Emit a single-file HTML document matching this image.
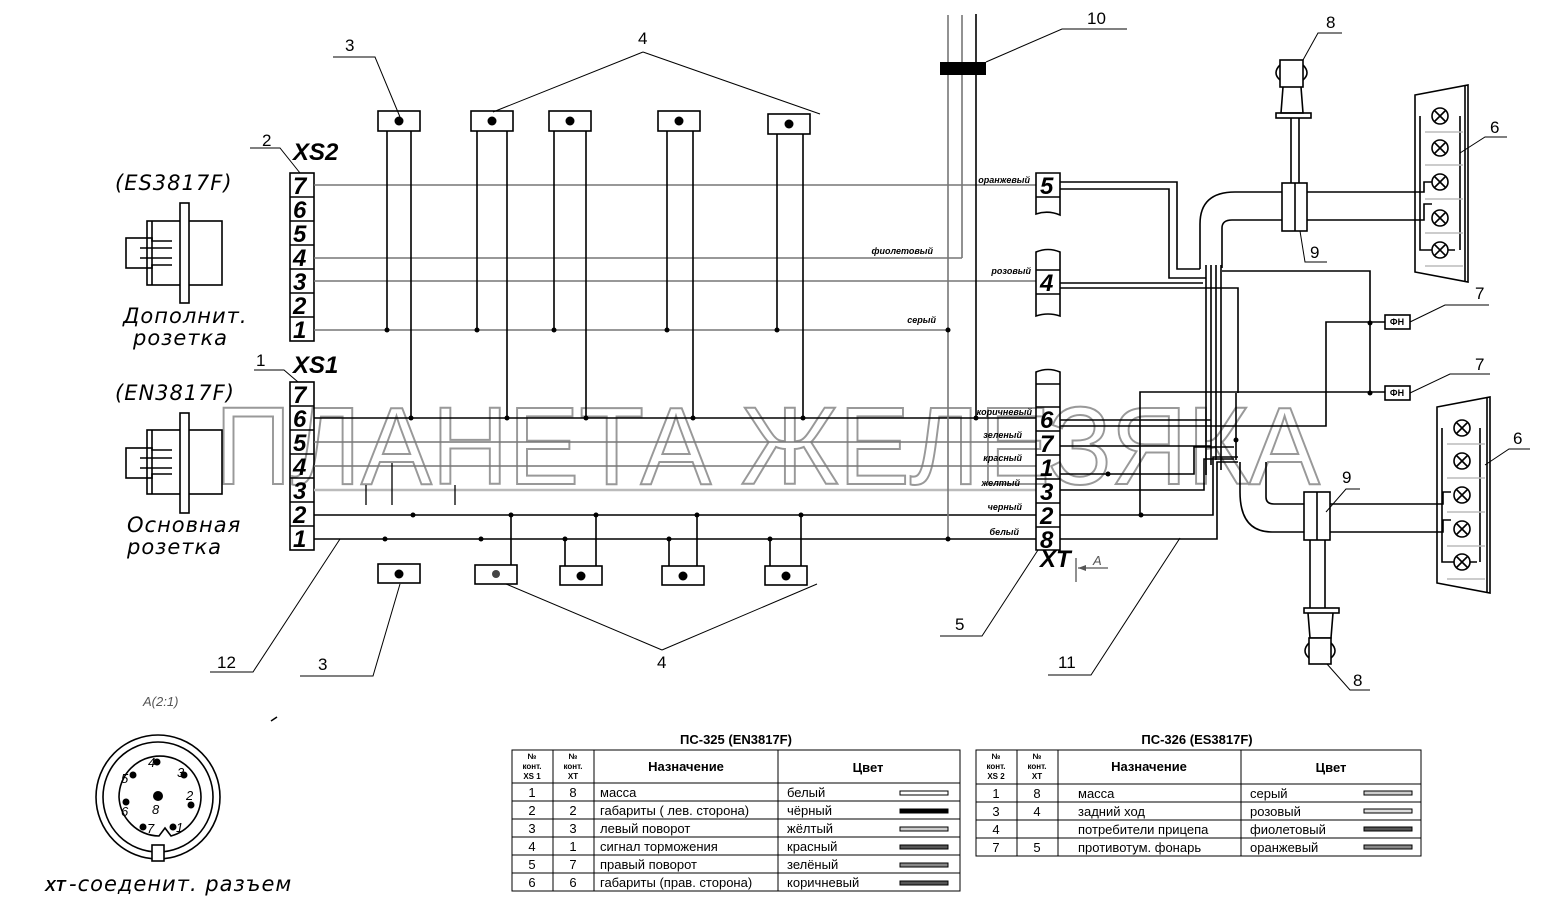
<!DOCTYPE html>
<html><head><meta charset="utf-8"><style>
html,body{margin:0;padding:0;background:#fff;}
svg{display:block;font-family:"Liberation Sans",sans-serif;}
.k{stroke:#000;fill:none;stroke-width:1.6}
.g{stroke:#777;fill:none;stroke-width:1.6}
.t{stroke:#000;fill:none;stroke-width:1}
.n{font-family:"Liberation Sans",sans-serif;font-weight:bold;font-style:italic;font-size:24px}
.lab{font-size:17px}
.cl{font-size:9px;font-weight:bold;font-style:italic;text-anchor:end}
.it{font-family:"DejaVu Sans",sans-serif;font-style:italic;font-size:21px;letter-spacing:1px}
.tb{font-size:13px}
.th{font-size:13px;font-weight:bold}
.ts{font-size:8px;font-weight:bold;text-anchor:middle}
</style></head><body>
<svg width="1547" height="903" viewBox="0 0 1547 903" xmlns="http://www.w3.org/2000/svg">
<rect width="1547" height="903" fill="#fff"/>

<!-- watermark -->
<text x="215" y="484" font-size="110" textLength="1105" lengthAdjust="spacingAndGlyphs" fill="none" stroke="#999" stroke-width="2">ПЛАНЕТА ЖЕЛЕЗЯКА</text>

<!-- left sockets -->
<g class="k" stroke-width="1.5">
<rect x="126" y="238" width="26" height="30"/><rect x="147" y="221" width="75" height="64"/><rect x="180" y="203" width="9" height="100" fill="#fff"/>
<path d="M152 221v20h20M152 285v-20h20M140 248h32M140 258h32"/>
<rect x="126" y="448" width="26" height="30"/><rect x="147" y="430" width="75" height="64"/><rect x="180" y="413" width="9" height="100" fill="#fff"/>
<path d="M152 430v20h20M152 494v-20h20M140 458h32M140 468h32"/>
</g>
<text x="115" y="190" class="it">(ES3817F)</text>
<text x="123" y="323" class="it">Дополнит.</text>
<text x="133" y="345" class="it">розетка</text>
<text x="115" y="400" class="it">(EN3817F)</text>
<text x="127" y="532" class="it">Основная</text>
<text x="127" y="554" class="it">розетка</text>

<!-- XS2 / XS1 blocks -->
<g class="k" stroke-width="1.5">
<rect x="290" y="173" width="24" height="168"/>
<path d="M290 197h24M290 221h24M290 245h24M290 269h24M290 293h24M290 317h24"/>
<rect x="290" y="382" width="24" height="168"/>
<path d="M290 406h24M290 430h24M290 454h24M290 478h24M290 502h24M290 526h24"/>
</g>
<g class="n" font-size="23">
<text x="293" y="194">7</text><text x="293" y="218">6</text><text x="293" y="242">5</text><text x="293" y="266">4</text><text x="293" y="290">3</text><text x="293" y="314">2</text><text x="293" y="338">1</text>
<text x="293" y="403">7</text><text x="293" y="427">6</text><text x="293" y="451">5</text><text x="293" y="475">4</text><text x="293" y="499">3</text><text x="293" y="523">2</text><text x="293" y="547">1</text>
</g>
<text x="293" y="160" class="n" font-size="15">XS2</text>
<text x="293" y="373" class="n" font-size="15">XS1</text>
<path class="t" d="M250 148h30l20 25M254 370h30l14 12"/>
<text x="262" y="146" class="lab">2</text><text x="256" y="366" class="lab">1</text>

<!-- main horizontal wires -->
<g class="g" stroke-width="1.3">
<path d="M314 185h722M314 258h648M314 281h722M314 330h634M314 442h722M314 466h722"/>
</g>
<path d="M314 490h722" stroke="#bbb" stroke-width="2.5" fill="none"/>
<path class="k" d="M314 418h722M314 515h722M314 539h722" stroke-width="1.8"/>

<!-- vertical bundle -->
<path class="g" d="M948 15v524M962 15v243"/>
<path class="k" d="M976 14v404"/>
<rect x="940" y="62" width="46" height="13" fill="#000"/>
<path class="t" d="M986 62l76-33h65"/><text x="1087" y="24" class="lab">10</text>

<!-- top connectors -->
<g class="k" stroke-width="1.5">
<rect x="378" y="111" width="42" height="20" fill="#fff"/><rect x="471" y="111" width="42" height="20" fill="#fff"/><rect x="549" y="111" width="42" height="20" fill="#fff"/><rect x="658" y="111" width="42" height="20" fill="#fff"/><rect x="768" y="114" width="42" height="20" fill="#fff"/>
<path d="M387 131v199M411 131v287M477 131v199M507 131v287M554 131v199M586 131v287M667 131v199M693 131v287M777 134v196M803 134v284"/>
<rect x="378" y="564" width="42" height="19" fill="#fff"/><rect x="475" y="565" width="42" height="19" fill="#fff"/><rect x="560" y="566" width="42" height="19" fill="#fff"/><rect x="662" y="566" width="42" height="19" fill="#fff"/><rect x="765" y="566" width="42" height="19" fill="#fff"/>
<path d="M511 515v50M565 539v27M596 515v51M669 539v27M697 515v51M770 539v27M801 515v51"/>
<path d="M366 485v20M392 463v42M455 485v20" stroke-width="1.3"/>
</g>
<g fill="#000">
<circle cx="399" cy="121" r="4.5"/><circle cx="492" cy="121" r="4.5"/><circle cx="570" cy="121" r="4.5"/><circle cx="679" cy="121" r="4.5"/><circle cx="789" cy="124" r="4.5"/>
<circle cx="399" cy="574" r="4.5"/><circle cx="496" cy="574" r="4" fill="#444"/><circle cx="581" cy="576" r="4.5"/><circle cx="683" cy="576" r="4.5"/><circle cx="786" cy="576" r="4.5"/>
<circle cx="387" cy="330" r="2.5"/><circle cx="477" cy="330" r="2.5"/><circle cx="554" cy="330" r="2.5"/><circle cx="667" cy="330" r="2.5"/><circle cx="777" cy="330" r="2.5"/><circle cx="948" cy="330" r="2.5"/>
<circle cx="411" cy="418" r="2.5"/><circle cx="507" cy="418" r="2.5"/><circle cx="586" cy="418" r="2.5"/><circle cx="693" cy="418" r="2.5"/><circle cx="803" cy="418" r="2.5"/><circle cx="976" cy="418" r="2.5"/>
<circle cx="413" cy="515" r="2.5"/><circle cx="511" cy="515" r="2.5"/><circle cx="596" cy="515" r="2.5"/><circle cx="697" cy="515" r="2.5"/><circle cx="801" cy="515" r="2.5"/>
<circle cx="385" cy="539" r="2.5"/><circle cx="481" cy="539" r="2.5"/><circle cx="565" cy="539" r="2.5"/><circle cx="669" cy="539" r="2.5"/><circle cx="770" cy="539" r="2.5"/><circle cx="948" cy="539" r="2.5"/>
<circle cx="1141" cy="515" r="2.5"/><circle cx="1370" cy="323" r="2.5"/><circle cx="1370" cy="393" r="2.5"/><circle cx="1236" cy="440" r="2.5"/><circle cx="1108" cy="474" r="2.5"/>
</g>
<!-- leaders top/bottom -->
<path class="t" d="M333 57h42l25 60M643 52l-150 60M643 52l177 62M662 650l-156-66M662 650l155-66M400 584l-27 92h-73M340 539l-87 133h-43"/>
<text x="345" y="51" class="lab">3</text><text x="638" y="44" class="lab">4</text><text x="657" y="668" class="lab">4</text><text x="318" y="670" class="lab">3</text><text x="217" y="668" class="lab">12</text>

<!-- color labels -->
<g class="cl">
<text x="1030" y="183">оранжевый</text><text x="933" y="254">фиолетовый</text><text x="1031" y="274">розовый</text><text x="936" y="323">серый</text>
<text x="1032" y="415">коричневый</text><text x="1022" y="438">зеленый</text><text x="1022" y="461">красный</text><text x="1020" y="486">желтый</text><text x="1022" y="510">черный</text><text x="1019" y="535">белый</text>
</g>

<!-- right connectors 5, 4, XT -->
<g class="k" stroke-width="1.5">
<path d="M1036 173h24v24h-24zM1036 197v17q12-4 24 1v-18"/>
<path d="M1036 252q12-5 24 0v64q-12-4-24 0zM1036 270h24M1036 294h24"/>
<path d="M1036 372q12-5 24 0v178h-24zM1036 384h24M1036 407h24M1036 431h24M1036 455h24M1036 479h24M1036 503h24M1036 527h24"/>
</g>
<g class="n" font-size="23">
<text x="1040" y="194">5</text><text x="1040" y="291">4</text>
<text x="1040" y="428">6</text><text x="1040" y="452">7</text><text x="1040" y="476">1</text><text x="1040" y="500">3</text><text x="1040" y="524">2</text><text x="1040" y="548">8</text>
</g>
<text x="1040" y="567" class="n" font-size="15">XT</text>
<path class="t" d="M1038 550l-56 86h-42M1180 538l-89 137h-43"/>
<text x="955" y="630" class="lab">5</text><text x="1058" y="668" class="lab">11</text>
<path d="M1076 558v24M1078 568h30" stroke="#555" stroke-width="1.3" fill="none"/><path d="M1078 568l8-3v6z" fill="#555"/>
<text x="1093" y="565" font-size="13" font-style="italic" fill="#555">A</text>

<!-- right wiring -->
<g class="k" stroke-width="1.4">
<path d="M1060 182h117v87h23M1060 189h109v89h37"/>
<path d="M1060 283h143M1060 288h178v105"/>
<path d="M1206 265v210M1211 265v200M1216 265v195M1221 265v205"/>
<path d="M1200 269v-45q0-32 35-32h47M1222 268v-40q0-8 10-8h50"/>
<path d="M1307 192h111M1307 220h111"/>
<path d="M1222 271h148v122"/>
<path d="M1385 322h-59v104h-266M1060 420h151"/>
<path d="M1385 392h-245v123"/>
<path d="M1236 393v67"/>
<path d="M1060 446h151M1060 474h134v-27h40M1060 490h144v-31h30M1060 515h153v-58h25M1060 539h157v-77h21"/>
<path d="M1240 462v30q0 40 32 40h32M1266 462v35q0 7 8 7h30"/>
<path d="M1330 504h107M1330 532h107"/>
</g>

<!-- upper 8, 9, 6 -->
<g class="k" stroke-width="1.5">
<rect x="1280" y="60" width="23" height="27" fill="#fff"/>
<path d="M1280 65q-8 8 0 15M1303 65q8 8 0 15"/>
<path d="M1283 87l-2 26h22l-2-26"/><rect x="1276" y="113" width="35" height="5"/>
<path d="M1291 118v65M1299 118v65"/>
<rect x="1282" y="183" width="25" height="48" fill="#fff"/><path d="M1295 183v48"/>
<path d="M1415 95l53-10v197l-53-10z"/><path d="M1465 86v195"/>
<path d="M1420 116v134h35M1460 116v134"/>
<rect x="1338" y="315" width="0" height="0"/>
<rect x="1385" y="315" width="25" height="14" fill="#fff"/><rect x="1385" y="386" width="25" height="14" fill="#fff"/>
<!-- lower 9, 8, 6 -->
<rect x="1304" y="492" width="26" height="48" fill="#fff"/><path d="M1317 492v48"/>
<path d="M1310 540v68M1325 540v68"/><rect x="1304" y="608" width="35" height="5"/>
<path d="M1308 613l2 25h21l2-25"/><rect x="1309" y="638" width="22" height="26" fill="#fff"/>
<path d="M1309 643q-8 8 0 15M1331 643q8 8 0 15"/>
<path d="M1437 407l53-10v196l-53-10z"/><path d="M1487 398v194"/>
<path d="M1442 428v134h35M1480 428v134"/>
</g>
<g stroke="#bbb" stroke-width="1.5"><path d="M1425 132h38M1425 165h38M1425 199h38M1425 233h38M1425 266h38M1447 444h38M1447 478h38M1447 512h38M1447 546h38M1447 579h38"/></g>
<g class="k" stroke-width="1.4" fill="#fff">
<g id="lamps1"><circle cx="1440" cy="116" r="8" fill="#fff"/><circle cx="1440" cy="148" r="8" fill="#fff"/><circle cx="1440" cy="182" r="8" fill="#fff"/><circle cx="1440" cy="218" r="8" fill="#fff"/><circle cx="1440" cy="250" r="8" fill="#fff"/></g>
<path d="M1434 110l12 12M1446 110l-12 12M1434 142l12 12M1446 142l-12 12M1434 176l12 12M1446 176l-12 12M1434 212l12 12M1446 212l-12 12M1434 244l12 12M1446 244l-12 12"/>
<circle cx="1462" cy="428" r="8" fill="#fff"/><circle cx="1462" cy="461" r="8" fill="#fff"/><circle cx="1462" cy="495" r="8" fill="#fff"/><circle cx="1462" cy="529" r="8" fill="#fff"/><circle cx="1462" cy="562" r="8" fill="#fff"/>
<path d="M1456 422l12 12M1468 422l-12 12M1456 455l12 12M1468 455l-12 12M1456 489l12 12M1468 489l-12 12M1456 523l12 12M1468 523l-12 12M1456 556l12 12M1468 556l-12 12"/>
<path d="M1418 192h6v-10h8M1418 220h6v-16h8M1437 504h6v-12h8M1437 532h6v-12h8" fill="none"/>
</g>
<g font-size="9" font-weight="bold" text-anchor="middle"><text x="1397" y="325">ФН</text><text x="1397" y="396">ФН</text></g>
<path class="t" d="M1460 153l25-16h22M1303 60l15-27h24M1300 231l5 31h22M1410 322l35-17h44M1410 393l40-19h40M1485 465l24-16h21M1326 512l20-23h14M1327 664l23 26h20"/>
<g class="lab"><text x="1490" y="133">6</text><text x="1326" y="28">8</text><text x="1310" y="258">9</text><text x="1475" y="299">7</text><text x="1475" y="370">7</text><text x="1513" y="444">6</text><text x="1342" y="483">9</text><text x="1353" y="686">8</text></g>

<!-- A(2:1) detail -->
<text x="143" y="706" font-size="13" font-style="italic" fill="#555">A(2:1)</text>
<path d="M271 721l6-4" stroke="#000" stroke-width="1.5"/>
<g class="k" stroke-width="1.4">
<circle cx="158" cy="797" r="62"/><circle cx="158" cy="797" r="55"/>
<path d="M119 797a41 41 0 0 1 82 0a41 41 0 0 1-30 39l-6-8-6 8a41 41 0 0 1-40-39z" />
<rect x="152" y="845" width="12" height="16" fill="#fff"/>
</g>
<g fill="#000"><circle cx="158" cy="796" r="5"/><circle cx="133" cy="775" r="3.5"/><circle cx="157" cy="762" r="3.5"/><circle cx="184" cy="775" r="3.5"/><circle cx="191" cy="805" r="3.5"/><circle cx="126" cy="802" r="3.5"/><circle cx="143" cy="827" r="3.5"/><circle cx="173" cy="827" r="3.5"/></g>
<g font-size="13" font-style="italic"><text x="152" y="814">8</text><text x="148" y="767">4</text><text x="177" y="777">3</text><text x="186" y="800">2</text><text x="176" y="832">1</text><text x="147" y="833">7</text><text x="121" y="816">6</text><text x="121" y="783">5</text></g>
<text x="45" y="891" font-size="16" font-weight="bold" font-style="italic">XT</text>
<text x="69" y="891" class="it" font-size="16">-соеденит. разъем</text>

<!-- table 1 -->
<text x="736" y="744" class="th" text-anchor="middle" font-size="12">ПС-325 (EN3817F)</text>
<g class="t">
<rect x="512" y="750" width="448" height="141"/>
<path d="M512 783h448M512 801h448M512 819h448M512 837h448M512 855h448M512 873h448M553 750v141M594 750v141M778 750v141"/>
<rect x="900" y="791" width="48" height="4"/><rect x="900" y="809" width="48" height="4" fill="#000"/><rect x="900" y="827" width="48" height="4" fill="#ccc"/><rect x="900" y="845" width="48" height="4" fill="#555"/><rect x="900" y="863" width="48" height="4" fill="#888"/><rect x="900" y="881" width="48" height="4" fill="#555"/>
</g>
<g class="ts"><text x="532" y="759">№</text><text x="532" y="769">конт.</text><text x="532" y="779">XS 1</text><text x="573" y="759">№</text><text x="573" y="769">конт.</text><text x="573" y="779">XT</text></g>
<text x="686" y="771" class="th" text-anchor="middle">Назначение</text><text x="868" y="772" class="th" text-anchor="middle">Цвет</text>
<g class="tb">
<g text-anchor="middle"><text x="532" y="797">1</text><text x="573" y="797">8</text><text x="532" y="815">2</text><text x="573" y="815">2</text><text x="532" y="833">3</text><text x="573" y="833">3</text><text x="532" y="851">4</text><text x="573" y="851">1</text><text x="532" y="869">5</text><text x="573" y="869">7</text><text x="532" y="887">6</text><text x="573" y="887">6</text></g>
<text x="600" y="797">масса</text><text x="600" y="815">габариты ( лев. сторона)</text><text x="600" y="833">левый поворот</text><text x="600" y="851">сигнал торможения</text><text x="600" y="869">правый поворот</text><text x="600" y="887">габариты (прав. сторона)</text>
<text x="787" y="797">белый</text><text x="787" y="815">чёрный</text><text x="787" y="833">жёлтый</text><text x="787" y="851">красный</text><text x="787" y="869">зелёный</text><text x="787" y="887">коричневый</text>
</g>

<!-- table 2 -->
<text x="1197" y="744" class="th" text-anchor="middle" font-size="12">ПС-326 (ES3817F)</text>
<g class="t">
<rect x="976" y="750" width="445" height="106"/>
<path d="M976 784h445M976 802h445M976 820h445M976 838h445M1017 750v106M1058 750v106M1241 750v106"/>
<rect x="1364" y="791" width="48" height="4" fill="#ccc"/><rect x="1364" y="809" width="48" height="4" fill="#ddd"/><rect x="1364" y="827" width="48" height="4" fill="#555"/><rect x="1364" y="845" width="48" height="4" fill="#888"/>
</g>
<g class="ts"><text x="996" y="759">№</text><text x="996" y="769">конт.</text><text x="996" y="779">XS 2</text><text x="1037" y="759">№</text><text x="1037" y="769">конт.</text><text x="1037" y="779">XT</text></g>
<text x="1149" y="771" class="th" text-anchor="middle">Назначение</text><text x="1331" y="772" class="th" text-anchor="middle">Цвет</text>
<g class="tb">
<g text-anchor="middle"><text x="996" y="798">1</text><text x="1037" y="798">8</text><text x="996" y="816">3</text><text x="1037" y="816">4</text><text x="996" y="834">4</text><text x="996" y="852">7</text><text x="1037" y="852">5</text></g>
<text x="1078" y="798">масса</text><text x="1078" y="816">задний ход</text><text x="1078" y="834">потребители прицепа</text><text x="1078" y="852">противотум. фонарь</text>
<text x="1250" y="798">серый</text><text x="1250" y="816">розовый</text><text x="1250" y="834">фиолетовый</text><text x="1250" y="852">оранжевый</text>
</g>
</svg>
</body></html>
